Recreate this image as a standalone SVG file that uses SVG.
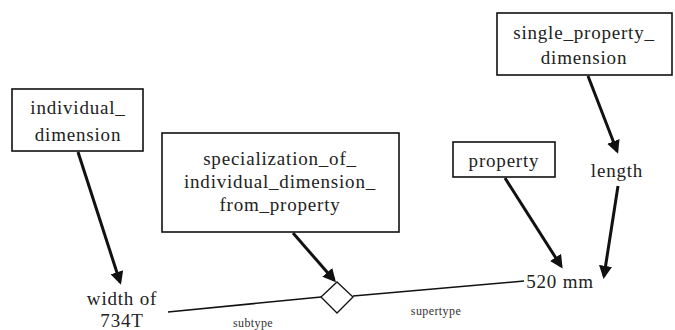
<svg xmlns="http://www.w3.org/2000/svg" width="675" height="330" viewBox="0 0 675 330">
<style>
.box{fill:#fff;stroke:#111;stroke-width:1.6}
.t{font-family:'Liberation Serif','Times New Roman','DejaVu Serif',serif;font-size:19px;letter-spacing:0.8px;fill:#222;text-anchor:middle}
.s{font-family:'Liberation Serif','Times New Roman','DejaVu Serif',serif;font-size:12px;letter-spacing:0.4px;fill:#333;text-anchor:middle}
.arr{stroke:#111;stroke-width:3;fill:none;marker-end:url(#ah)}
.ln{stroke:#111;stroke-width:1.5;fill:none}
</style>
<defs>
<marker id="ah" markerWidth="4.4" markerHeight="4.4" refX="3.4" refY="2.2" orient="auto" markerUnits="strokeWidth">
<path d="M0,0 L4.4,2.2 L0,4.4 z" fill="#111"/>
</marker>
</defs>
<rect width="675" height="330" fill="#fff"/>
<g id="connectors">
<line class="arr" x1="78" y1="152" x2="120" y2="282"/>
<line class="arr" x1="293" y1="233" x2="334" y2="280"/>
<line class="arr" x1="505" y1="178" x2="561" y2="266"/>
<line class="arr" x1="588" y1="76" x2="617" y2="151"/>
<line class="arr" x1="618" y1="186" x2="604" y2="276"/>
<polyline class="ln" points="168,312 321,297"/>
<polyline class="ln" points="353,296 524,281"/>
</g>
<g id="individual_dimension">
<rect class="box" x="12" y="89" width="131" height="62"/>
<text class="t" x="78" y="114">individual_</text>
<text class="t" x="78" y="141">dimension</text>
</g>
<g id="specialization">
<rect class="box" x="162" y="133" width="237" height="99"/>
<text class="t" x="280" y="165">specialization_of_</text>
<text class="t" x="280" y="188">individual_dimension_</text>
<text class="t" x="280" y="211">from_property</text>
</g>
<g id="diamond">
<polygon points="337,282 353,297 337,313 321,297" fill="#fff" stroke="#111" stroke-width="1.3"/>
</g>
<g id="property">
<rect class="box" x="453" y="142" width="102" height="35"/>
<text class="t" x="504" y="167">property</text>
</g>
<g id="single_property_dimension">
<rect class="box" x="497" y="13" width="175" height="62"/>
<text class="t" x="584" y="39">single_property_</text>
<text class="t" x="584" y="64">dimension</text>
</g>
<g id="width_of_734T">
<text class="t" x="122" y="305">width of</text>
<text class="t" x="122" y="327">734T</text>
</g>
<g id="length">
<text class="t" x="617" y="177">length</text>
</g>
<g id="mm520">
<text class="t" x="560" y="288">520 mm</text>
</g>
<g id="labels">
<text class="s" x="253" y="327">subtype</text>
<text class="s" x="436" y="315">supertype</text>
</g>
</svg>
